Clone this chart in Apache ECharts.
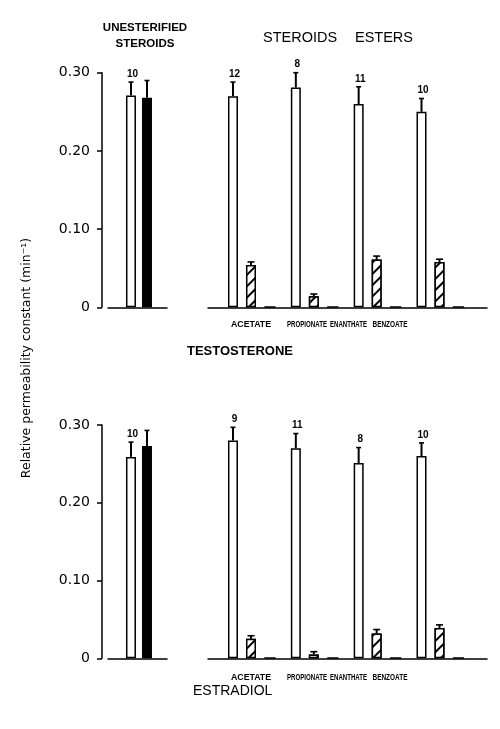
<!DOCTYPE html>
<html><head><meta charset="utf-8">
<script src="https://cdn.jsdelivr.net/npm/echarts@6/dist/echarts.min.js"></script>
<style>html,body{margin:0;padding:0;background:#fff}#c{width:500px;height:729px}</style>
</head><body><div id="c"></div>
<script>
// ---------- data ----------
const esters = ['ACETATE', 'PROPIONATE', 'ENANTHATE', 'BENZOATE'];
const yTicks = [0, 0.10, 0.20, 0.30];
const panelNames = ['TESTOSTERONE', 'ESTRADIOL'];

// Testosterone
const testoFree = [0.271, 0.268];          // open, solid
const testoFreeErr = [0.017, 0.022];
const testoFreeN = ['10', ''];
const testoOpen = [0.270, 0.281, 0.260, 0.250];
const testoOpenErr = [0.018, 0.019, 0.022, 0.017];
const testoOpenN = ['12', '8', '11', '10'];
const testoHatch = [0.054, 0.014, 0.061, 0.058];
const testoHatchErr = [0.004, 0.003, 0.0045, 0.0035];
const testoThird = [0.001, 0.001, 0.001, 0.001];

// Estradiol
const estraFree = [0.259, 0.273];
const estraFreeErr = [0.019, 0.020];
const estraFreeN = ['10', ''];
const estraOpen = [0.280, 0.270, 0.251, 0.260];
const estraOpenErr = [0.017, 0.019, 0.020, 0.017];
const estraOpenN = ['9', '11', '8', '10'];
const estraHatch = [0.025, 0.005, 0.032, 0.039];
const estraHatchErr = [0.004, 0.0035, 0.005, 0.004];
const estraThird = [0.001, 0.001, 0.001, 0.001];

// ---------- layout ----------
const panels = [
  {free: testoFree, freeErr: testoFreeErr, freeN: testoFreeN, open: testoOpen, openErr: testoOpenErr, openN: testoOpenN, hatch: testoHatch, hatchErr: testoHatchErr, third: testoThird, top: 72.7, height: 234.6, labelY: 325, nameY: 351, nameX: 187, nameFont: 'bold 13px "Liberation Sans", Arial'},
  {free: estraFree, freeErr: estraFreeErr, freeN: estraFreeN, open: estraOpen, openErr: estraOpenErr, openN: estraOpenN, hatch: estraHatch, hatchErr: estraHatchErr, third: estraThird, top: 425, height: 233.3, labelY: 677.5, nameY: 691, nameX: 193, nameFont: '14px "Liberation Sans", Arial'}
];
const labelCenters = [251, 307, 348.5, 390];
const labelWidths = [40, 40, 37, 35];
const FONT = '"Liberation Sans", Arial, sans-serif';
const catFont = 'bold 8.5px ' + FONT;

const measureCtx = document.createElement('canvas').getContext('2d');
function textWidth(t, f) { measureCtx.font = f; return measureCtx.measureText(t).width; }

const grids = [], xAxes = [], yAxes = [], series = [], graphics = [];

function errSeries(axisIdx, pts, errs, labels, offset, capHalf) {
  return {
    type: 'custom', xAxisIndex: axisIdx, yAxisIndex: axisIdx, silent: true, z: 5,
    data: pts.map((p, i) => [p[0], p[1], errs[i]]),
    renderItem: function (params, api) {
      const i = params.dataIndex;
      const x = api.value(0), v = api.value(1), e = api.value(2);
      const b = api.coord([x, v]);
      const t = api.coord([x, v + e]);
      const cx = b[0] + offset;
      const children = [
        {type: 'line', shape: {x1: cx, y1: b[1], x2: cx, y2: t[1]}, style: {stroke: '#000', lineWidth: 2}},
        {type: 'line', shape: {x1: cx - capHalf, y1: t[1], x2: cx + capHalf, y2: t[1]}, style: {stroke: '#000', lineWidth: 1.6}}
      ];
      if (labels && labels[i]) {
        children.push({type: 'text', x: cx + 1.5, y: t[1] - 3,
          style: {text: labels[i], fill: '#000', font: 'bold 10px ' + FONT, align: 'center', verticalAlign: 'bottom'}});
      }
      return {type: 'group', children: children};
    }
  };
}

const hatchDecal = {symbol: 'rect', symbolSize: 1, dashArrayX: [1, 0], dashArrayY: [1.3, 6], rotation: -Math.PI / 4, color: '#000', backgroundColor: '#fff'};

panels.forEach((p, k) => {
  const gL = k * 2, gR = k * 2 + 1;
  grids.push({left: 108, width: 59, top: p.top, height: p.height});
  grids.push({left: 208, width: 279, top: p.top, height: p.height});
  const baseX = {type: 'value', axisLabel: {show: false}, axisTick: {show: false}, splitLine: {show: false},
    axisLine: {show: true, onZero: true, lineStyle: {color: '#000', width: 1.5}}};
  xAxes.push(Object.assign({gridIndex: gL, min: -1.05, max: 0.95}, baseX));
  xAxes.push(Object.assign({gridIndex: gR, min: -0.7, max: 3.74}, baseX));
  yAxes.push({gridIndex: gL, type: 'value', min: 0, max: 0.30, interval: 0.10, offset: 6, position: 'left',
    axisLine: {show: true, onZero: false, lineStyle: {color: '#000', width: 1.5}},
    axisTick: {show: true, inside: false, length: 5, lineStyle: {color: '#000', width: 1.5}},
    splitLine: {show: false},
    axisLabel: {margin: 12, color: '#000', fontSize: 14, fontFamily: '"DejaVu Sans", sans-serif',
      formatter: v => { const t = yTicks.find(q => Math.abs(q - v) < 1e-9); return t === 0 ? '0' : (t !== undefined ? t.toFixed(2) : ''); }}});
  yAxes.push({gridIndex: gR, type: 'value', min: 0, max: 0.30, interval: 0.10, show: false});

  // unesterified
  series.push({type: 'bar', xAxisIndex: gL, yAxisIndex: gL, barWidth: 10, barGap: '60%', silent: true,
    data: [[0, p.free[0]]], itemStyle: {color: '#fff', borderColor: '#000', borderWidth: 1.5}});
  series.push({type: 'bar', xAxisIndex: gL, yAxisIndex: gL, barWidth: 10, barGap: '60%', silent: true,
    data: [[0, p.free[1]]], itemStyle: {color: '#000', borderColor: '#000', borderWidth: 1.5}});
  series.push(errSeries(gL, [[0, p.free[0]]], [p.freeErr[0]], [p.freeN[0]], -8, 2.5));
  series.push(errSeries(gL, [[0, p.free[1]]], [p.freeErr[1]], [p.freeN[1]], 8, 2.5));

  // esters
  series.push({type: 'bar', xAxisIndex: gR, yAxisIndex: gR, barWidth: 10, barGap: '80%', silent: true,
    data: p.open.map((v, i) => [i, v]), itemStyle: {color: '#fff', borderColor: '#000', borderWidth: 1.5}});
  series.push({type: 'bar', xAxisIndex: gR, yAxisIndex: gR, barWidth: 10, barGap: '80%', silent: true,
    data: p.hatch.map((v, i) => [i, v]), itemStyle: {color: '#fff', borderColor: '#000', borderWidth: 1.5, decal: hatchDecal}});
  series.push({type: 'bar', xAxisIndex: gR, yAxisIndex: gR, barWidth: 12, barGap: '80%', silent: true,
    data: p.third.map((v, i) => [i, v]), itemStyle: {color: '#fff', borderColor: '#000', borderWidth: 1.5}});
  series.push(errSeries(gR, p.open.map((v, i) => [i, v]), p.openErr, p.openN, -19, 2.5));
  series.push(errSeries(gR, p.hatch.map((v, i) => [i, v]), p.hatchErr, null, -1, 3.5));

  esters.forEach((name, i) => {
    const w = textWidth(name, catFont);
    graphics.push({type: 'text', x: labelCenters[i], y: p.labelY, scaleX: labelWidths[i] / w,
      style: {text: name, fill: '#000', font: catFont, align: 'center', verticalAlign: 'middle'}});
  });
  graphics.push({type: 'text', x: p.nameX, y: p.nameY,
    style: {text: panelNames[k], fill: '#000', font: p.nameFont, align: 'left', verticalAlign: 'middle'}});
});

graphics.push({type: 'text', x: 145, y: 35.5, style: {text: 'UNESTERIFIED\nSTEROIDS', fill: '#000', font: 'bold 11.5px ' + FONT, align: 'center', verticalAlign: 'middle', lineHeight: 16}});
graphics.push({type: 'text', x: 263, y: 37.5, style: {text: 'STEROIDS', fill: '#000', font: '14.5px ' + FONT, align: 'left', verticalAlign: 'middle'}});
graphics.push({type: 'text', x: 355, y: 37.5, style: {text: 'ESTERS', fill: '#000', font: '14.5px ' + FONT, align: 'left', verticalAlign: 'middle'}});
graphics.push({type: 'text', x: 27, y: 358, rotation: Math.PI / 2,
  style: {text: 'Relative permeability constant (min⁻¹)', fill: '#000', font: '12.5px "DejaVu Sans", sans-serif', align: 'center', verticalAlign: 'middle'}});

const chart = echarts.init(document.getElementById('c'), null, {renderer: 'canvas'});
chart.setOption({
  animation: false,
  backgroundColor: '#fff',
  grid: grids, xAxis: xAxes, yAxis: yAxes, series: series, graphic: graphics
});
</script></body></html>
